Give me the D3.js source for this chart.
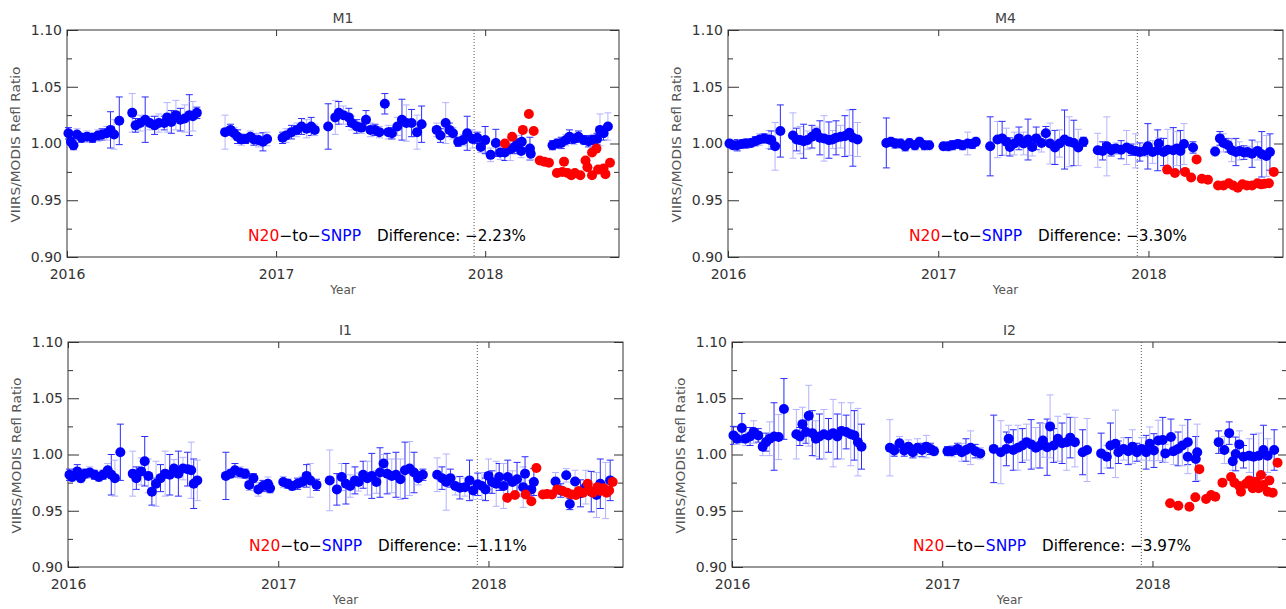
<!DOCTYPE html>
<html>
<head>
<meta charset="utf-8">
<script src="https://cdn.jsdelivr.net/npm/d3@7"></script>
<style>
  body { margin: 0; background: #fff; }
  svg { display: block; font-family: "DejaVu Sans", sans-serif; }
  .axis line { stroke: #333; }
  .axis path { display: none; }
</style>
</head>
<body>
<svg id="chart" width="1286" height="609"></svg>
<script>
// ---- data: [decimal year, ratio, error] ----
var m1Blue = [
  [2016.007,1.009,0.005],[2016.019,1.0015,0.004],[2016.031,0.9985,0.004],[2016.048,1.008,0.005],
  [2016.070,1.005,0.004],[2016.096,1.006,0.005],[2016.122,1.005,0.004],[2016.148,1.007,0.005],
  [2016.168,1.008,0.005],[2016.190,1.009,0.006],[2016.208,1.012,0.016],[2016.225,1.008,0.013],
  [2016.250,1.020,0.021],[2016.312,1.027,0.017],[2016.328,1.016,0.006],[2016.350,1.018,0.007],
  [2016.374,1.021,0.020],[2016.396,1.018,0.006],[2016.419,1.016,0.008],[2016.439,1.018,0.008],
  [2016.465,1.018,0.006],[2016.479,1.023,0.013],[2016.499,1.019,0.010],[2016.521,1.025,0.013],
  [2016.542,1.021,0.010],[2016.563,1.022,0.012],[2016.585,1.025,0.018],[2016.602,1.024,0.013],
  [2016.621,1.027,0.005],
  [2016.756,1.010,0.015],[2016.782,1.012,0.005],[2016.799,1.009,0.005],[2016.816,1.006,0.006],
  [2016.834,1.0035,0.005],[2016.854,1.004,0.004],[2016.877,1.006,0.005],[2016.894,1.0035,0.005],
  [2016.916,1.003,0.006],[2016.937,1.0015,0.008],[2016.957,1.004,0.006],[2017.031,1.005,0.005],
  [2017.048,1.007,0.006],[2017.074,1.010,0.006],[2017.099,1.012,0.006],[2017.122,1.015,0.007],
  [2017.146,1.013,0.008],[2017.168,1.015,0.008],[2017.185,1.012,0.005],
  [2017.249,1.015,0.020],[2017.283,1.023,0.015],[2017.300,1.027,0.010],[2017.322,1.025,0.008],
  [2017.348,1.023,0.008],[2017.362,1.018,0.006],[2017.386,1.015,0.006],[2017.408,1.014,0.005],
  [2017.430,1.021,0.008],[2017.451,1.012,0.006],[2017.473,1.012,0.005],[2017.494,1.010,0.005],
  [2017.520,1.035,0.009],[2017.537,1.010,0.006],[2017.554,1.009,0.005],[2017.580,1.015,0.008],
  [2017.602,1.021,0.018],[2017.623,1.018,0.016],[2017.648,1.018,0.012],[2017.674,1.010,0.015],
  [2017.696,1.017,0.016],
  [2017.768,1.012,0.006],[2017.786,1.007,0.006],[2017.811,1.018,0.018],[2017.829,1.012,0.006],
  [2017.846,1.009,0.005],[2017.871,1.0015,0.004],[2017.894,1.003,0.005],[2017.914,1.009,0.015],
  [2017.940,1.004,0.008],[2017.962,1.005,0.005],[2017.979,0.997,0.005],[2018.000,1.003,0.012],
  [2018.026,0.990,0.006],[2018.051,1.0005,0.012],[2018.072,0.992,0.006],[2018.094,0.992,0.007],
  [2018.120,0.995,0.010],[2018.141,0.997,0.006],[2018.154,1.000,0.007],[2018.175,1.0015,0.010],
  [2018.172,0.9935,0.006],[2018.214,0.9955,0.010],[2018.218,0.991,0.005],
  [2018.322,0.9985,0.004],[2018.343,1.000,0.004],[2018.364,1.0005,0.005],[2018.386,1.003,0.005],
  [2018.403,1.006,0.006],[2018.425,1.004,0.005],[2018.446,1.006,0.005],[2018.472,1.003,0.004],
  [2018.494,1.002,0.005],[2018.515,1.003,0.005],[2018.535,1.004,0.005],[2018.549,1.012,0.014],
  [2018.566,1.009,0.006],[2018.587,1.015,0.012]
];
var m1Red = [
  [2018.094,1.000],[2018.129,1.006],[2018.180,1.012],[2018.209,1.026],[2018.232,1.011],
  [2018.261,0.985],[2018.283,0.984],[2018.305,0.983],[2018.343,0.974],[2018.369,0.975],
  [2018.377,0.984],[2018.394,0.974],[2018.412,0.972],[2018.429,0.974],[2018.455,0.972],
  [2018.480,0.985],[2018.489,0.979],[2018.511,0.992],[2018.511,0.972],[2018.532,0.9955],
  [2018.540,0.977],[2018.566,0.978],[2018.575,0.973],[2018.597,0.983]
];

var m4Blue = [
  [2016.007,1.000,0.003],[2016.024,0.9985,0.004],[2016.044,0.9985,0.005],[2016.065,0.9995,0.004],
  [2016.087,1.000,0.004],[2016.109,1.0005,0.004],[2016.130,1.002,0.004],[2016.150,1.0035,0.005],
  [2016.172,1.0045,0.004],[2016.195,1.0035,0.008],[2016.206,1.003,0.008],[2016.224,0.9975,0.021],
  [2016.249,1.011,0.023],[2016.309,1.007,0.020],[2016.326,1.0035,0.010],[2016.343,1.003,0.012],
  [2016.360,1.002,0.015],[2016.377,1.003,0.008],[2016.399,1.006,0.010],[2016.420,1.0095,0.005],
  [2016.437,1.005,0.015],[2016.457,1.0045,0.020],[2016.480,1.003,0.016],[2016.497,1.0035,0.008],
  [2016.514,1.005,0.015],[2016.536,1.006,0.010],[2016.556,1.0065,0.018],[2016.577,1.0095,0.020],
  [2016.594,1.005,0.025],[2016.616,1.0035,0.015],
  [2016.753,1.0005,0.022],[2016.775,1.0015,0.004],[2016.795,1.000,0.004],[2016.821,1.000,0.004],
  [2016.843,0.9975,0.004],[2016.863,1.0005,0.004],[2016.889,0.9985,0.004],[2016.911,1.0015,0.004],
  [2016.935,0.9985,0.004],[2016.957,0.9985,0.004],[2017.025,0.9975,0.003],[2017.048,0.9975,0.004],
  [2017.068,0.9985,0.004],[2017.094,0.9995,0.004],[2017.116,0.9985,0.004],[2017.140,1.000,0.010],
  [2017.162,0.9995,0.004],[2017.179,1.0015,0.004],
  [2017.247,0.9975,0.026],[2017.282,1.0035,0.016],[2017.304,1.0045,0.015],[2017.324,1.0015,0.012],
  [2017.341,0.997,0.008],[2017.362,1.000,0.010],[2017.384,1.0045,0.010],[2017.406,1.000,0.010],
  [2017.427,1.0035,0.018],[2017.447,0.997,0.008],[2017.466,1.0045,0.010],[2017.491,1.0005,0.008],
  [2017.512,1.009,0.006],[2017.532,1.000,0.018],[2017.555,0.9965,0.015],[2017.577,1.000,0.012],
  [2017.601,1.0035,0.026],[2017.623,1.0015,0.022],[2017.645,1.0005,0.020],[2017.666,0.9965,0.016],
  [2017.691,1.0015,0.004],
  [2017.759,0.994,0.015],[2017.782,0.9935,0.008],[2017.802,0.9975,0.026],[2017.823,0.994,0.005],
  [2017.845,0.9955,0.005],[2017.870,0.9945,0.008],[2017.896,0.9965,0.015],[2017.918,0.9945,0.005],
  [2017.939,0.9935,0.015],[2017.959,0.9925,0.008],[2017.981,0.9935,0.005],[2017.997,0.9975,0.020],
  [2018.020,0.9925,0.010],[2018.044,0.994,0.018],[2018.049,1.000,0.005],[2018.072,0.9925,0.012],
  [2018.092,0.9945,0.018],[2018.118,0.994,0.020],[2018.135,0.9955,0.015],[2018.152,0.9935,0.018],
  [2018.169,0.9995,0.018],[2018.212,0.9965,0.005],
  [2018.317,0.993,0.004],[2018.340,1.0045,0.006],[2018.357,1.0005,0.008],[2018.379,0.9985,0.006],
  [2018.396,0.994,0.010],[2018.416,0.9925,0.012],[2018.433,0.9935,0.008],[2018.454,0.992,0.006],
  [2018.471,0.9925,0.005],[2018.493,0.991,0.012],[2018.519,0.9935,0.008],[2018.539,0.9905,0.020],
  [2018.561,0.989,0.018],[2018.578,0.9925,0.016]
];
var m4Red = [
  [2018.089,0.977],[2018.126,0.974],[2018.174,0.975],[2018.203,0.970],[2018.229,0.986],
  [2018.254,0.969],[2018.283,0.968],[2018.331,0.963],[2018.357,0.963],[2018.382,0.965],
  [2018.403,0.963],[2018.425,0.961],[2018.447,0.964],[2018.468,0.963],[2018.493,0.963],
  [2018.519,0.965],[2018.536,0.964],[2018.553,0.9645],[2018.573,0.965],[2018.596,0.975]
];

var i1Blue = [
  [2016.007,0.982,0.005],[2016.019,0.980,0.004],[2016.044,0.985,0.006],[2016.061,0.979,0.004],
  [2016.082,0.983,0.004],[2016.104,0.984,0.005],[2016.126,0.982,0.004],[2016.147,0.980,0.004],
  [2016.167,0.982,0.004],[2016.189,0.986,0.006],[2016.206,0.982,0.018],[2016.223,0.979,0.016],
  [2016.249,1.002,0.025],[2016.308,0.983,0.020],[2016.325,0.979,0.010],[2016.348,0.985,0.012],
  [2016.365,0.994,0.022],[2016.382,0.981,0.015],[2016.399,0.967,0.012],[2016.419,0.974,0.020],
  [2016.440,0.979,0.012],[2016.462,0.983,0.020],[2016.484,0.982,0.018],[2016.504,0.9875,0.008],
  [2016.525,0.983,0.020],[2016.547,0.9875,0.010],[2016.569,0.987,0.015],[2016.586,0.986,0.025],
  [2016.598,0.974,0.022],[2016.615,0.977,0.018],
  [2016.751,0.981,0.021],[2016.773,0.983,0.004],[2016.794,0.986,0.006],[2016.819,0.984,0.005],
  [2016.842,0.983,0.004],[2016.862,0.973,0.005],[2016.882,0.979,0.004],[2016.905,0.969,0.006],
  [2016.927,0.972,0.005],[2016.951,0.974,0.006],[2016.961,0.970,0.004],[2017.024,0.9755,0.005],
  [2017.046,0.974,0.004],[2017.066,0.972,0.004],[2017.092,0.974,0.005],[2017.114,0.9755,0.005],
  [2017.135,0.981,0.010],[2017.152,0.977,0.015],[2017.182,0.973,0.005],
  [2017.245,0.977,0.027],[2017.279,0.969,0.014],[2017.302,0.980,0.012],[2017.322,0.974,0.018],
  [2017.342,0.972,0.010],[2017.365,0.977,0.012],[2017.382,0.9755,0.008],[2017.404,0.982,0.012],
  [2017.424,0.979,0.015],[2017.445,0.981,0.020],[2017.467,0.9755,0.010],[2017.484,0.984,0.022],
  [2017.501,0.992,0.008],[2017.518,0.983,0.018],[2017.540,0.981,0.015],[2017.560,0.982,0.020],
  [2017.581,0.978,0.018],[2017.603,0.986,0.025],[2017.625,0.9875,0.024],[2017.646,0.984,0.018],
  [2017.666,0.979,0.006],[2017.688,0.982,0.005],
  [2017.756,0.982,0.015],[2017.779,0.979,0.010],[2017.799,0.9755,0.025],[2017.819,0.979,0.008],
  [2017.842,0.972,0.008],[2017.864,0.9705,0.010],[2017.888,0.971,0.008],[2017.910,0.977,0.018],
  [2017.927,0.968,0.008],[2017.949,0.9735,0.010],[2017.969,0.972,0.012],[2017.986,0.969,0.010],
  [2018.000,0.981,0.015],[2018.017,0.9755,0.010],[2018.037,0.974,0.020],[2018.051,0.980,0.012],
  [2018.072,0.972,0.020],[2018.092,0.980,0.015],[2018.114,0.9755,0.010],[2018.136,0.978,0.015],
  [2018.165,0.971,0.018],[2018.174,0.983,0.015],[2018.204,0.969,0.008],[2018.216,0.9755,0.012],
  [2018.319,0.976,0.008],[2018.344,0.968,0.006],[2018.370,0.9815,0.006],[2018.387,0.956,0.005],
  [2018.412,0.976,0.010],[2018.438,0.9655,0.012],[2018.463,0.971,0.015],[2018.489,0.967,0.018],
  [2018.514,0.964,0.020],[2018.532,0.974,0.022],[2018.557,0.968,0.025],[2018.579,0.977,0.018]
];
var i1Red = [
  [2018.089,0.9615],[2018.126,0.964],[2018.177,0.9645],[2018.204,0.9585],[2018.228,0.988],
  [2018.259,0.9645],[2018.279,0.965],[2018.302,0.9645],[2018.327,0.969],[2018.353,0.9675],
  [2018.375,0.966],[2018.395,0.9645],[2018.416,0.964],[2018.429,0.9675],[2018.450,0.966],
  [2018.472,0.974],[2018.480,0.968],[2018.497,0.966],[2018.518,0.971],[2018.532,0.9675],
  [2018.549,0.970],[2018.562,0.966],[2018.574,0.968],[2018.591,0.9755]
];

var i2Blue = [
  [2016.007,1.017,0.008],[2016.024,1.014,0.005],[2016.047,1.0235,0.013],[2016.064,1.014,0.006],
  [2016.086,1.016,0.008],[2016.103,1.020,0.010],[2016.125,1.017,0.006],[2016.146,1.007,0.008],
  [2016.162,1.011,0.008],[2016.179,1.014,0.015],[2016.200,1.016,0.030],[2016.222,1.0155,0.020],
  [2016.247,1.0405,0.027],[2016.306,1.018,0.022],[2016.323,1.016,0.008],[2016.335,1.027,0.015],
  [2016.352,1.020,0.010],[2016.365,1.0345,0.027],[2016.382,1.019,0.020],[2016.399,1.014,0.016],
  [2016.416,1.016,0.020],[2016.437,1.018,0.022],[2016.459,1.017,0.015],[2016.481,1.019,0.030],
  [2016.501,1.016,0.020],[2016.521,1.021,0.025],[2016.543,1.020,0.015],[2016.565,1.018,0.028],
  [2016.582,1.017,0.022],[2016.599,1.011,0.030],[2016.616,1.007,0.020],
  [2016.751,1.006,0.025],[2016.772,1.0035,0.005],[2016.797,1.010,0.006],[2016.819,1.0035,0.005],
  [2016.839,1.007,0.006],[2016.860,1.002,0.005],[2016.882,1.006,0.008],[2016.904,1.004,0.006],
  [2016.924,1.007,0.010],[2016.944,1.005,0.005],[2016.961,1.003,0.004],[2017.025,1.003,0.004],
  [2017.046,1.003,0.005],[2017.073,1.005,0.005],[2017.093,1.002,0.008],[2017.113,1.004,0.010],
  [2017.135,1.006,0.015],[2017.157,1.003,0.006],[2017.181,1.001,0.005],
  [2017.245,1.005,0.030],[2017.279,1.002,0.028],[2017.305,1.005,0.015],[2017.316,1.014,0.012],
  [2017.338,1.004,0.018],[2017.360,1.006,0.020],[2017.381,1.008,0.015],[2017.401,1.011,0.016],
  [2017.423,1.009,0.022],[2017.445,1.006,0.018],[2017.465,1.008,0.020],[2017.479,1.0125,0.015],
  [2017.499,1.0065,0.025],[2017.513,1.025,0.028],[2017.530,1.008,0.015],[2017.550,1.014,0.020],
  [2017.570,1.010,0.018],[2017.592,1.011,0.025],[2017.609,1.015,0.018],[2017.631,1.011,0.022],
  [2017.668,1.002,0.020],[2017.689,1.004,0.028],
  [2017.756,1.001,0.018],[2017.783,0.998,0.010],[2017.800,1.008,0.020],[2017.824,1.0095,0.030],
  [2017.838,1.002,0.010],[2017.863,1.005,0.010],[2017.885,1.003,0.012],[2017.905,1.007,0.015],
  [2017.926,1.002,0.008],[2017.948,1.005,0.010],[2017.970,1.002,0.015],[2017.987,1.0095,0.015],
  [2018.007,1.0035,0.015],[2018.027,1.0125,0.018],[2018.049,1.013,0.020],[2018.061,1.001,0.008],
  [2018.088,1.0155,0.016],[2018.100,1.003,0.012],[2018.122,1.005,0.015],[2018.142,1.008,0.018],
  [2018.168,1.011,0.020],[2018.168,0.998,0.015],[2018.206,0.996,0.020],[2018.213,1.002,0.025],
  [2018.315,1.011,0.010],[2018.342,1.004,0.012],[2018.365,1.019,0.010],[2018.382,0.994,0.008],
  [2018.396,1.0005,0.015],[2018.413,1.009,0.012],[2018.433,0.998,0.010],[2018.460,0.999,0.015],
  [2018.481,0.998,0.020],[2018.506,0.999,0.020],[2018.528,1.004,0.022],[2018.548,0.999,0.015],
  [2018.579,1.004,0.018]
];
var i2Red = [
  [2018.084,0.9566],[2018.123,0.9545],[2018.176,0.9536],[2018.204,0.962],[2018.223,0.987],
  [2018.255,0.9604],[2018.279,0.964],[2018.299,0.9625],[2018.333,0.975],[2018.374,0.980],
  [2018.390,0.975],[2018.413,0.972],[2018.421,0.967],[2018.445,0.974],[2018.461,0.977],
  [2018.477,0.970],[2018.493,0.9758],[2018.505,0.970],[2018.516,0.9818],[2018.527,0.973],
  [2018.548,0.967],[2018.556,0.977],[2018.572,0.966],[2018.595,0.9927]
];

var bandNames = ['M1', 'M4', 'I1', 'I2'];
var differences = [-2.23, -3.30, -1.11, -3.97];
var yTicks = [0.90, 0.95, 1.00, 1.05, 1.10];
var yMinorTicks = [0.925, 0.975, 1.025, 1.075];
var xTicks = [2016, 2017, 2018];
var n20Start = 2017.947;

// layout of the four panels
var panels = [
  { blue: m1Blue, red: m1Red, left: 67,  top: 30,  w: 552, h: 227 },
  { blue: m4Blue, red: m4Red, left: 728, top: 30,  w: 555, h: 227 },
  { blue: i1Blue, red: i1Red, left: 68,  top: 342, w: 555, h: 225 },
  { blue: i2Blue, red: i2Red, left: 732, top: 342, w: 555, h: 225 }
];

var svg = d3.select('#chart');

panels.forEach(function(p, k) {
    var g = svg.append('g').attr('transform', 'translate(' + p.left + ',' + p.top + ')');

    var x = d3.scaleLinear().domain([2016, 2018.64]).range([0, p.w]);
    var y = d3.scaleLinear().domain([0.90, 1.10]).range([p.h, 0]);

    // frame
    g.append('rect')
        .attr('width', p.w).attr('height', p.h)
        .attr('fill', 'none').attr('stroke', '#333').attr('stroke-width', 1);

    // axes, ticks pointing into the plot
    g.append('g').attr('class', 'axis')
        .call(d3.axisLeft(y).tickValues(yTicks).tickSize(-11).tickPadding(5).tickFormat(d3.format('.2f')));
    g.append('g').attr('class', 'axis')
        .call(d3.axisLeft(y).tickValues(yMinorTicks).tickSize(-5).tickFormat(''));
    g.append('g').attr('class', 'axis').attr('transform', 'translate(' + p.w + ',0)')
        .call(d3.axisRight(y).tickValues(yTicks).tickSize(-9).tickFormat(''));
    g.append('g').attr('class', 'axis').attr('transform', 'translate(' + p.w + ',0)')
        .call(d3.axisRight(y).tickValues(yMinorTicks).tickSize(-5).tickFormat(''));
    g.append('g').attr('class', 'axis').attr('transform', 'translate(0,' + p.h + ')')
        .call(d3.axisBottom(x).tickValues(xTicks).tickSize(-6).tickPadding(12).tickFormat(d3.format('d')));
    g.append('g').attr('class', 'axis')
        .call(d3.axisTop(x).tickValues(xTicks).tickSize(-6).tickFormat(''));

    g.selectAll('.axis')
        .attr('font-family', '"DejaVu Sans", sans-serif')
        .attr('font-size', 14);
    g.selectAll('.axis text').attr('fill', '#333');

    // N20 start marker
    g.append('line')
        .attr('x1', x(n20Start)).attr('x2', x(n20Start))
        .attr('y1', 0).attr('y2', p.h)
        .attr('stroke', '#555').attr('stroke-width', 1).attr('stroke-dasharray', '1,2');

    // error bars for SNPP
    var bars = g.append('g').selectAll('g').data(p.blue).enter().append('g')
        .attr('stroke', function(d, i) { return i % 2 ? '#b3b3ff' : '#2b2bff'; })
        .attr('stroke-width', 1);
    bars.append('line')
        .attr('x1', function(d) { return x(d[0]); }).attr('x2', function(d) { return x(d[0]); })
        .attr('y1', function(d) { return y(d[1] - d[2]); }).attr('y2', function(d) { return y(d[1] + d[2]); });
    [1, -1].forEach(function(s) {
        bars.append('line')
            .attr('x1', function(d) { return x(d[0]) - 3.5; }).attr('x2', function(d) { return x(d[0]) + 3.5; })
            .attr('y1', function(d) { return y(d[1] + s * d[2]); }).attr('y2', function(d) { return y(d[1] + s * d[2]); });
    });

    g.append('g').selectAll('circle').data(p.blue).enter().append('circle')
        .attr('cx', function(d) { return x(d[0]); })
        .attr('cy', function(d) { return y(d[1]); })
        .attr('r', 5).attr('fill', '#0000ff');

    g.append('g').selectAll('circle').data(p.red).enter().append('circle')
        .attr('cx', function(d) { return x(d[0]); })
        .attr('cy', function(d) { return y(d[1]); })
        .attr('r', 5).attr('fill', '#ff0000');

    // titles and labels
    g.append('text').attr('x', p.w / 2).attr('y', -7)
        .attr('text-anchor', 'middle').attr('font-size', 14).attr('fill', '#444')
        .text(bandNames[k]);
    g.append('text').attr('x', p.w / 2).attr('y', p.h + 37)
        .attr('text-anchor', 'middle').attr('font-size', 12).attr('fill', '#555')
        .text('Year');
    g.append('text')
        .attr('transform', 'translate(-47,' + (p.h / 2 + 1) + ') rotate(-90)')
        .attr('text-anchor', 'middle').attr('font-size', 13).attr('fill', '#555')
        .attr('textLength', 156).attr('lengthAdjust', 'spacingAndGlyphs')
        .text('VIIRS/MODIS Refl Ratio');

    // difference note
    var noteY = p.h - 16;
    var t1 = g.append('text').attr('x', 181).attr('y', noteY).attr('font-size', 15)
        .attr('textLength', 113).attr('lengthAdjust', 'spacingAndGlyphs');
    t1.append('tspan').attr('fill', '#ff0000').text('N20');
    t1.append('tspan').attr('fill', '#000').text('\u2212to\u2212');
    t1.append('tspan').attr('fill', '#0000ff').text('SNPP');
    g.append('text').attr('x', 310).attr('y', noteY).attr('font-size', 15).attr('fill', '#000')
        .attr('textLength', 149).attr('lengthAdjust', 'spacingAndGlyphs')
        .text('Difference: ' + d3.format('.2f')(differences[k]).replace('-', '\u2212') + '%');
});
</script>
</body>
</html>
